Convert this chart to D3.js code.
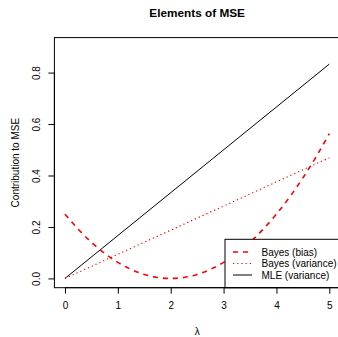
<!DOCTYPE html>
<html><head><meta charset="utf-8">
<script src="https://cdn.jsdelivr.net/npm/d3@7"></script>
<style>body{margin:0;background:#fff}svg{display:block;font-family:"Liberation Sans",Arial,sans-serif}</style>
</head><body>
<script>
// Data
const lambdas = [0,0.25,0.5,0.75,1,1.25,1.5,1.75,2,2.25,2.5,2.75,3,3.25,3.5,3.75,4,4.25,4.5,4.75,5];
const bayesBias = [0.25,0.1914,0.1406,0.0977,0.0625,0.0352,0.0156,0.0039,0,0.0039,0.0156,0.0352,0.0625,0.0977,0.1406,0.1914,0.25,0.3164,0.3906,0.4727,0.5625];
const varLambdas = [0,5];
const bayesVariance = [0,0.469];
const mleVariance = [0,0.833];
const xTicks = [0,1,2,3,4,5];
const yTicks = [0,0.2,0.4,0.6,0.8];
const legendLabels = ["Bayes (bias)","Bayes (variance)","MLE (variance)"];

const W=338,H=337;
const svg=d3.select("body").append("svg").attr("width",W).attr("height",H);
const L=54.4,R=339.9,T=37.6,B=287.7;
const x=d3.scaleLinear().domain([-0.2,5.2]).range([L,R]);
const y=d3.scaleLinear().domain([-0.036,0.936]).range([B,T]);

const line=d3.line().x(d=>x(d[0])).y(d=>y(d[1]));
const curve=d3.line().x(d=>x(d[0])).y(d=>y(d[1])).curve(d3.curveNatural);

// series
svg.append("path").datum(varLambdas.map((l,i)=>[l,mleVariance[i]])).attr("d",line)
  .attr("fill","none").attr("stroke","#000").attr("stroke-width",1);
svg.append("path").datum(varLambdas.map((l,i)=>[l,bayesVariance[i]])).attr("d",line)
  .attr("fill","none").attr("stroke","#ff0000").attr("stroke-width",1.2).attr("stroke-dasharray","1.2,3");
svg.append("path").datum(lambdas.map((l,i)=>[l,bayesBias[i]])).attr("d",curve)
  .attr("fill","none").attr("stroke","#ff0000").attr("stroke-width",1.6).attr("stroke-dasharray","5,5");

// legend
const lgL=225, lgT=239.3;
svg.append("rect").attr("x",lgL).attr("y",lgT).attr("width",R-lgL).attr("height",B-lgT)
  .attr("fill","#fff").attr("stroke","#000").attr("stroke-width",1);
const styles=[{c:"#ff0000",w:1.6,d:"5,5"},{c:"#ff0000",w:1.2,d:"1.2,3"},{c:"#000",w:1,d:null}];
const rowY=[252,263.5,275];
legendLabels.forEach((t,i)=>{
  const s=styles[i];
  const ln=svg.append("line").attr("x1",233).attr("x2",252).attr("y1",rowY[i]).attr("y2",rowY[i])
    .attr("stroke",s.c).attr("stroke-width",s.w);
  if(s.d) ln.attr("stroke-dasharray",s.d);
  svg.append("text").attr("x",261.5).attr("y",rowY[i]).attr("dy","0.35em")
    .attr("font-size",10).attr("fill","#000").text(t);
});

// box
svg.append("rect").attr("x",L).attr("y",T).attr("width",R-L).attr("height",B-T)
  .attr("fill","none").attr("stroke","#000").attr("stroke-width",1);

// x axis
const gx=svg.append("g").attr("transform",`translate(0,${B})`)
  .call(d3.axisBottom(x).tickValues(xTicks).tickFormat(d3.format("d")).tickSize(6).tickPadding(8));
gx.select(".domain").remove();
gx.selectAll("text").attr("font-size",10).attr("font-family","Liberation Sans, Arial, sans-serif");
svg.append("line").attr("x1",x(0)).attr("x2",x(5)).attr("y1",B).attr("y2",B).attr("stroke","#000");

// y axis
const gy=svg.append("g").attr("transform",`translate(${L},0)`)
  .call(d3.axisLeft(y).tickValues(yTicks).tickFormat(d3.format(".1f")).tickSize(6).tickPadding(0));
gy.select(".domain").remove();
gy.selectAll(".tick text").attr("font-size",10).attr("font-family","Liberation Sans, Arial, sans-serif")
  .attr("x",0).attr("dy",null).attr("text-anchor","middle")
  .attr("transform","translate(-18,0) rotate(-90)").attr("dy","0.35em");
svg.append("line").attr("x1",L).attr("x2",L).attr("y1",y(0)).attr("y2",y(0.8)).attr("stroke","#000");

// titles
svg.append("text").attr("x",(L+R)/2).attr("y",17).attr("text-anchor","middle")
  .attr("font-size",11.8).attr("font-weight","bold").text("Elements of MSE");
svg.append("text").attr("x",(L+R)/2).attr("y",335).attr("text-anchor","middle")
  .attr("font-size",10).text("λ");
svg.append("text").attr("transform",`translate(15,${(T+B)/2}) rotate(-90)`).attr("text-anchor","middle")
  .attr("dy","0.35em").attr("font-size",10).text("Contribution to MSE");
</script>
</body></html>
